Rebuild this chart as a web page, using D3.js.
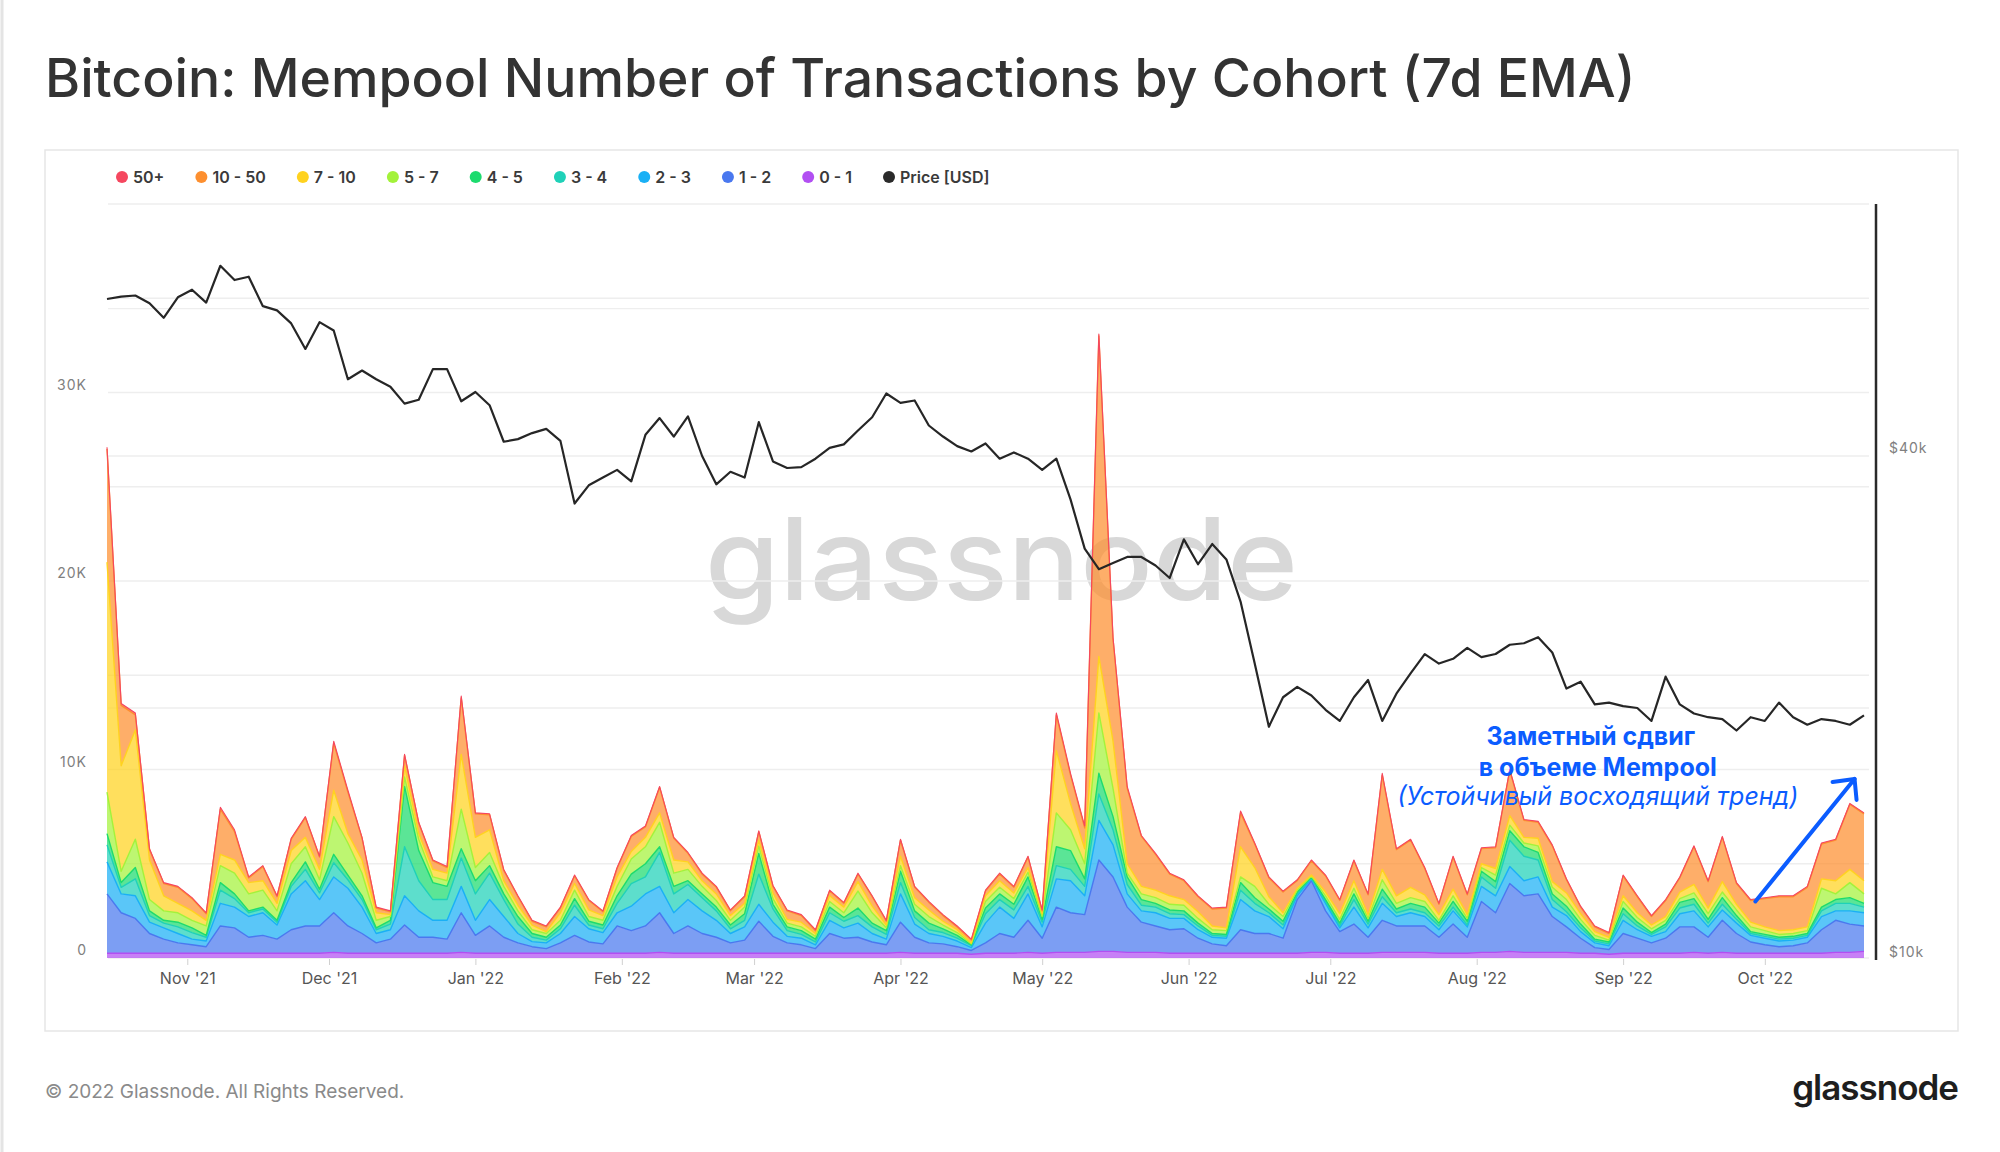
<!DOCTYPE html>
<html>
<head>
<meta charset="utf-8">
<script src="https://cdn.jsdelivr.net/npm/d3@7/dist/d3.min.js"></script>
<style>
  body { margin: 0; background: #fff; }
  svg { display: block; font-family: Inter, 'Noto Sans', sans-serif; }
</style>
</head>
<body>
<div class="container"></div>
<script>
// sample dates: every 3 days from 15 Oct 2021
const startDate = new Date(2021, 9, 15);
const dates = d3.range(125).map(i => d3.timeDay.offset(startDate, 3 * i));

// cohorts, bottom of the stack first
const cohortKeys = ['0 - 1', '1 - 2', '2 - 3', '3 - 4', '4 - 5', '5 - 7', '7 - 10', '10 - 50', '50+'];
const cohortColors = ['#b24ff2', '#4a78ef', '#1ab0f5', '#1fd1b8', '#1cdb6e', '#a3f23a', '#ffd21f', '#fd8f2f', '#f5475f'];
const legendOrder = ['50+', '10 - 50', '7 - 10', '5 - 7', '4 - 5', '3 - 4', '2 - 3', '1 - 2', '0 - 1'];

const c01 = [
  250,250,250,250,250,250,250,250,250,250, 250,250,250,250,250,250,300,250,250,250,
  250,250,250,250,250,300,250,250,250,250, 250,250,250,250,250,250,250,250,250,300,
  250,250,250,250,250,250,250,250,250,250, 250,250,250,250,250,250,300,250,250,250,
  250,200,250,250,250,300,250,300,300,300, 350,350,300,300,300,250,250,250,250,250,
  250,250,250,250,250,300,300,250,250,250, 300,300,300,300,250,250,250,300,300,350,
  300,300,300,300,250,250,200,250,250,250, 250,250,300,250,300,250,250,250,250,250,
  250,250,300,300,350];
const c12 = [
  3150,2150,1850,1050,750,550,450,350,1450,1350, 850,950,750,1250,1450,1450,2100,1450,1050,550,
  750,1500,850,850,750,2100,950,1450,850,550, 350,250,550,950,600,500,1450,1200,1450,2100,
  1050,1450,1050,850,550,700,1700,900,550,450, 250,1050,800,850,600,450,1600,850,550,500,
  350,200,550,1050,850,1700,800,2400,2100,2000, 4850,3950,2400,1600,1400,1250,1300,800,500,400,
  1250,1050,1050,800,2850,3800,2200,1150,1550,850, 1700,1400,1400,1400,850,1550,850,2700,2100,3600,
  3000,3100,1900,1350,800,300,250,1050,800,550, 800,1400,1350,850,1700,1050,600,450,350,400,
  550,1250,1700,1500,1350];
const c23 = [
  1700,1000,1200,600,600,500,300,300,1200,1100, 1100,1200,750,1900,2400,1400,1900,2000,1400,500,
  500,1550,1400,900,1000,1400,800,1400,1100,500, 270,300,500,1000,700,600,700,1300,1700,1400,
  1100,1400,1200,900,500,700,900,750,350,350, 200,700,550,750,450,300,1500,700,500,400,
  300,150,1050,1400,1000,1400,600,1500,1700,1000, 2100,1700,700,600,700,600,550,450,350,400,
  1600,1200,900,500,200,100,400,200,900,500, 900,500,700,500,400,700,550,800,900,900,
  800,900,500,600,350,250,200,700,450,350, 350,700,850,550,550,550,350,350,300,300,
  300,700,500,700,700];
const c34 = [
  900,350,900,350,250,350,350,200,700,450, 200,200,150,400,600,350,750,450,400,200,
  300,2600,1600,1100,1100,1500,1400,1400,900,500, 230,150,250,600,200,200,500,1200,900,1800,
  1000,800,700,500,250,350,1600,700,300,200, 150,400,350,400,350,250,600,350,200,200,
  150,100,500,400,450,400,250,700,600,500, 1400,800,500,300,300,250,200,200,100,100,
  500,400,200,200,100,50,100,100,400,200, 350,200,200,200,200,200,100,500,400,1400,
  1300,900,400,200,200,100,100,350,200,100, 250,300,350,200,300,200,100,100,100,100,
  100,300,400,400,300];
const c45 = [
  600,250,600,250,150,250,250,100,400,250, 100,100,100,200,400,200,450,250,200,100,
  200,3200,1600,900,700,500,700,400,300,400, 200,150,200,350,200,200,400,500,700,300,
  400,200,200,200,200,350,1100,250,200,200, 150,300,200,400,200,200,600,350,350,200,
  150,50,300,300,300,500,150,1000,1000,400, 1100,700,400,300,200,200,200,150,100,100,
  400,300,200,200,100,50,100,150,300,150, 400,200,300,300,150,300,200,300,350,500,
  500,400,300,300,200,100,100,300,200,100, 150,300,300,200,350,200,100,100,100,100,
  100,200,200,300,200];
const c57 = [
  2200,600,1500,600,500,500,400,500,900,1100, 900,900,500,1000,800,500,2000,1700,1200,400,
  200,500,600,300,300,2100,700,700,400,300, 200,200,250,450,250,250,500,800,900,1300,
  700,600,400,350,250,350,400,300,200,200, 150,300,250,900,550,150,300,350,350,200,
  150,50,350,350,300,250,150,1800,1100,800, 3200,1500,200,300,300,300,300,250,200,200,
  300,600,250,250,100,50,200,200,300,150, 500,300,300,300,150,300,150,200,350,300,
  200,350,350,350,250,200,100,350,250,200, 200,200,300,300,300,300,250,200,150,150,
  150,1000,300,800,500];
const c710 = [
  12200,5600,5800,2100,800,500,500,300,600,700, 600,500,400,700,500,550,1400,500,700,400,
  100,600,300,400,400,2900,1600,1200,300,300, 250,100,400,350,350,250,500,400,500,500,
  700,400,300,350,250,200,300,300,200,250, 150,300,300,500,350,150,500,350,350,200,
  150,50,300,350,300,250,150,3300,1400,800, 3000,2500,500,400,400,450,300,350,200,150,
  1600,1000,400,200,100,50,200,300,400,200, 550,400,550,350,300,350,200,200,350,500,
  300,400,300,350,300,200,150,300,250,200, 200,350,450,300,550,300,250,200,200,200,
  200,500,700,700,700];
const c1050 = [
  6000,3200,800,550,650,850,650,350,2400,1500, 250,750,350,600,1050,650,2500,2200,1150,250,
  150,550,550,450,300,3000,1250,800,550,450, 200,250,250,400,500,200,450,800,550,1350,
  1150,450,350,350,250,350,450,350,450,350, 150,250,200,400,500,200,850,550,400,300,
  150,150,250,350,300,550,150,1900,1500,1100, 17000,5400,4000,2650,1900,1150,1000,800,900,1050,
  1800,1250,1000,1100,400,750,850,700,1050,1050, 5000,2450,2500,1400,550,1700,1050,800,1100,2400,
  900,850,1900,700,350,250,200,1050,850,450, 850,750,2000,1400,2350,1100,1150,1500,1800,1750,
  2100,1850,2150,3450,3550];
const c50 = [
  100,100,100,50,50,50,50,50,100,100, 50,50,50,50,50,50,100,100,50,50,
  50,50,50,50,50,100,50,50,50,50, 50,50,50,50,50,50,50,50,50,50,
  50,50,50,50,50,50,50,50,50,50, 50,50,50,50,50,50,50,50,50,50,
  50,50,50,50,50,50,50,100,100,100, 100,100,100,50,50,50,50,50,50,50,
  100,50,50,50,50,50,50,50,50,50, 100,50,50,50,50,50,50,50,50,50,
  50,50,50,50,50,50,50,50,50,50, 50,50,50,50,50,50,50,50,50,50,
  50,50,50,50,50];
const price = [
  61600,62000,62200,60900,58500,61900,63200,61000,67500,64900, 65500,60400,59700,57600,53700,57800,56500,49400,50600,49400,
  48400,46200,46700,50800,50800,46500,47700,46000,41600,41900, 42600,43100,41700,35100,36900,37700,38500,37300,42400,44400,
  42200,44600,40000,37000,38300,37700,43900,39400,38700,38800, 39700,40900,41300,42900,44500,47500,46300,46600,43500,42200,
  41100,40500,41400,39700,40400,39700,38500,39700,35500,31000, 29300,29800,30300,30300,29600,28600,31800,29700,31400,30100,
  26800,22600,19000,20600,21200,20700,19900,19300,20600,21600, 19300,20800,22000,23200,22600,22900,23600,23000,23200,23800,
  23900,24300,23300,21100,21500,20200,20300,20100,20000,19300, 21800,20200,19700,19500,19400,18800,19500,19300,20300,19500,
  19100,19400,19300,19100,19600];

const leftTicks = [0, 5000, 10000, 15000, 20000, 25000, 30000, 35000, 40000];
const leftLabels = [0, 10000, 20000, 30000];
const priceGrid = [20000, 40000, 60000];
const priceLabels = [10000, 40000];

const renderChart = () => {
  const width = 2000;
  const height = 1152;
  const left = 107, right = 1864, top = 204, bottom = 958;

  const svg = d3.select('.container').append('svg').attr('width', width).attr('height', height);
  svg.append('rect').attr('width', width).attr('height', height).attr('fill', '#fff');
  svg.append('line').attr('x1', 2).attr('x2', 2).attr('y1', 0).attr('y2', height).attr('stroke', '#e4e4e4').attr('stroke-width', 3);

  //title
  svg.append('text')
    .text('Bitcoin: Mempool Number of Transactions by Cohort (7d EMA)')
    .attr('x', 45).attr('y', 97)
    .attr('font-size', 53.5).attr('font-weight', 500).attr('fill', '#333');

  //panel
  svg.append('rect').attr('x', 45).attr('y', 150).attr('width', 1913).attr('height', 881)
    .attr('fill', 'none').attr('stroke', '#e6e6e6').attr('stroke-width', 1.5);

  //scales
  const x = d3.scaleTime().domain([dates[0], dates[dates.length - 1]]).range([left, right]);
  const yLeft = d3.scaleLinear().domain([0, 40000]).range([bottom, top]);
  const yPrice = d3.scaleLog().domain([10000, 40000]).range([960, 456]);

  //watermark
  svg.append('text').text('glassnode')
    .attr('x', 705).attr('y', 600)
    .attr('font-size', 114).attr('font-weight', 500)
    .attr('textLength', 593).attr('lengthAdjust', 'spacingAndGlyphs')
    .attr('fill', '#d8d8d8');

  //gridlines
  const grid = svg.append('g').attr('class', 'grid').attr('stroke', '#eeeeee').attr('stroke-width', 1.3);
  leftTicks.forEach(v => {
    grid.append('line').attr('x1', left + 1).attr('x2', 1869).attr('y1', yLeft(v)).attr('y2', yLeft(v));
  });
  priceGrid.forEach(v => {
    grid.append('line').attr('x1', left + 1).attr('x2', 1869).attr('y1', yPrice(v)).attr('y2', yPrice(v));
  });

  //left labels
  svg.append('g').selectAll('text').data(leftLabels).join('text')
    .text(d => d === 0 ? '0' : d / 1000 + 'K')
    .attr('x', 87).attr('y', d => yLeft(d) - 3)
    .attr('text-anchor', 'end').attr('font-size', 14).attr('letter-spacing', 1)
    .attr('fill', '#808080');

  //right axis
  svg.append('line').attr('x1', 1876).attr('x2', 1876).attr('y1', top).attr('y2', bottom + 2)
    .attr('stroke', '#2a2a2a').attr('stroke-width', 2.5);
  svg.append('g').selectAll('text').data(priceLabels).join('text')
    .text(d => '$' + d / 1000 + 'k')
    .attr('x', 1889).attr('y', d => yPrice(d) - 3)
    .attr('font-size', 14).attr('letter-spacing', 1).attr('fill', '#808080');

  //stacked areas
  const rows = dates.map((d, i) => ({
    date: d,
    '0 - 1': c01[i], '1 - 2': c12[i], '2 - 3': c23[i], '3 - 4': c34[i], '4 - 5': c45[i],
    '5 - 7': c57[i], '7 - 10': c710[i], '10 - 50': c1050[i], '50+': c50[i]
  }));
  const series = d3.stack().keys(cohortKeys)(rows);
  const color = d3.scaleOrdinal().domain(cohortKeys).range(cohortColors);

  const area = d3.area()
    .x(d => x(d.data.date))
    .y0(d => yLeft(d[0]))
    .y1(d => yLeft(d[1]));
  const topLine = d3.line()
    .x(d => x(d.data.date))
    .y(d => yLeft(d[1]));

  const areas = svg.append('g').attr('class', 'areas');
  areas.selectAll('path.area').data(series).join('path')
    .attr('class', 'area')
    .attr('d', area)
    .attr('fill', d => color(d.key))
    .attr('fill-opacity', 0.72);
  areas.selectAll('path.edge').data(series).join('path')
    .attr('class', 'edge')
    .attr('d', topLine)
    .attr('fill', 'none')
    .attr('stroke', d => color(d.key))
    .attr('stroke-width', d => d.key === '50+' ? 1.1 : 1.4)
    .attr('stroke-linejoin', 'round');

  //price line
  const priceLine = d3.line()
    .x((d, i) => x(dates[i]))
    .y(d => yPrice(d));
  svg.append('path').attr('d', priceLine(price))
    .attr('fill', 'none').attr('stroke', '#262626').attr('stroke-width', 2.2)
    .attr('stroke-linejoin', 'round');

  //x axis
  const bottomAxis = d3.axisBottom(x)
    .ticks(d3.timeMonth.every(1))
    .tickFormat(d3.timeFormat("%b '%y"))
    .tickSize(6).tickPadding(8);
  const axisGroup = svg.append('g').attr('transform', `translate(0,${bottom + 1})`).call(bottomAxis);
  axisGroup.select('.domain').remove();
  axisGroup.selectAll('line').attr('stroke', '#d0d0d0');
  axisGroup.selectAll('text').attr('font-size', 16).attr('fill', '#555').attr('font-family', 'Inter, sans-serif');

  //legend
  const legend = svg.append('g').attr('class', 'legend');
  let lx = 122;
  legendOrder.concat(['Price [USD]']).forEach(k => {
    const c = k === 'Price [USD]' ? '#2a2a2a' : color(k);
    legend.append('circle').attr('cx', lx).attr('cy', 177).attr('r', 6).attr('fill', c);
    const t = legend.append('text').text(k)
      .attr('x', lx + 11).attr('y', 183)
      .attr('font-size', 16).attr('font-weight', 600).attr('fill', '#3a3a3a');
    lx += 11 + t.node().getComputedTextLength() + 37;
  });

  //annotation
  const blue = '#0b5cff';
  const note = svg.append('g').attr('fill', blue).attr('text-anchor', 'middle');
  const noteX = x(new Date(2022, 7, 26));
  note.append('text').text('Заметный сдвиг').attr('x', noteX - 4).attr('y', yLeft(11300))
    .attr('font-size', 25).attr('font-weight', 700);
  note.append('text').text('в объеме Mempool').attr('x', noteX + 3).attr('y', yLeft(9650))
    .attr('font-size', 25).attr('font-weight', 700);
  note.append('text').text('(Устойчивый восходящий тренд)').attr('x', noteX + 3).attr('y', yLeft(8100))
    .attr('font-size', 25).attr('font-style', 'italic').attr('font-weight', 400);

  const ax1 = x(new Date(2022, 8, 29)), ay1 = yLeft(3000);
  const ax2 = x(new Date(2022, 9, 20)), ay2 = yLeft(9500);
  svg.append('line').attr('x1', ax1).attr('y1', ay1).attr('x2', ax2).attr('y2', ay2)
    .attr('stroke', blue).attr('stroke-width', 4).attr('stroke-linecap', 'round');
  svg.append('polyline')
    .attr('points', `${ax2 - 22},${ay2 + 3} ${ax2},${ay2} ${ax2 + 2},${ay2 + 21}`)
    .attr('fill', 'none').attr('stroke', blue).attr('stroke-width', 4)
    .attr('stroke-linecap', 'round').attr('stroke-linejoin', 'round');

  //footer
  svg.append('text').text('© 2022 Glassnode. All Rights Reserved.')
    .attr('x', 45).attr('y', 1098).attr('font-size', 19).attr('fill', '#8a8a8a');
  svg.append('text').text('glassnode')
    .attr('x', 1958).attr('y', 1100).attr('text-anchor', 'end')
    .attr('font-size', 35).attr('font-weight', 600).attr('letter-spacing', -1).attr('fill', '#1e1e1e');
};

renderChart();
</script>
</body>
</html>
